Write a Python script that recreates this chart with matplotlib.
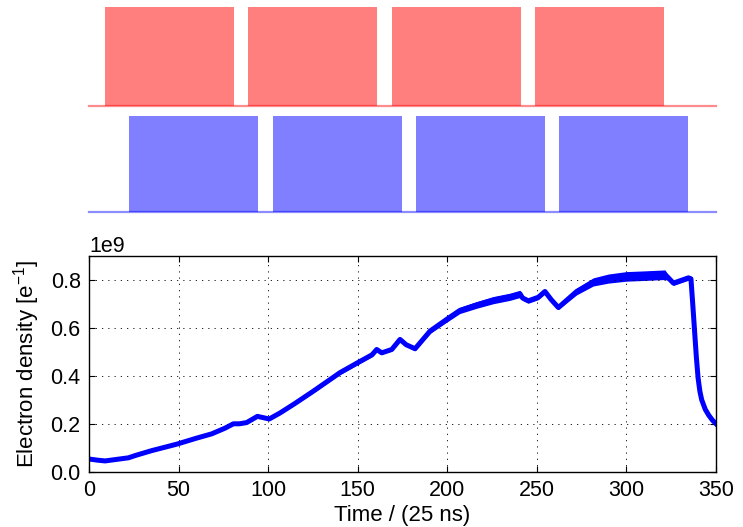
import numpy as np
import matplotlib
matplotlib.use("Agg")
import matplotlib.pyplot as plt

# bunch trains (start slot, in units of 25 ns), each train is 72 bunches long
red_train_starts = [9, 89, 169, 249]
blue_train_starts = [22.5, 102.5, 182.5, 262.5]
train_length = 72
t_end = 350

# electron density along the run (units of 1e9 e-/m)
time = [0, 5, 9, 15, 22, 26, 35, 49, 60, 68.5, 76, 80.6, 84, 88, 94,
        97, 100.6, 106.6, 115, 125, 136, 140, 150, 158, 160.6, 163.4, 169,
        173.6, 177, 182, 190.4, 199.7, 207, 216.4, 225.7, 235, 240.6,
        242, 245.2, 250.8, 254.5, 258, 262, 272.2, 281.5, 290, 300, 310,
        321.5, 323, 326.2, 330, 334.6, 336, 337, 338, 339, 340, 341, 342,
        344, 346, 348, 350]
density = [0.053, 0.048, 0.045, 0.051, 0.058, 0.068, 0.088, 0.115, 0.14,
           0.158, 0.182, 0.2, 0.2, 0.205, 0.231, 0.226, 0.22, 0.245, 0.285,
           0.335, 0.392, 0.413, 0.455, 0.488, 0.51, 0.496, 0.51, 0.552,
           0.53, 0.513, 0.587, 0.636, 0.673, 0.696, 0.716, 0.73, 0.742,
           0.725, 0.713, 0.728, 0.752, 0.718, 0.685, 0.752, 0.792, 0.806,
           0.815, 0.818, 0.822, 0.812, 0.787, 0.797, 0.809, 0.805, 0.70,
           0.59, 0.48, 0.39, 0.335, 0.30, 0.26, 0.235, 0.215, 0.2]
# half width of the fast in-train oscillation band
spread = [0.001, 0.001, 0.001, 0.001, 0.001, 0.001, 0.002, 0.002, 0.002,
          0.002, 0.002, 0.002, 0.002, 0.002, 0.002, 0.002, 0.002, 0.003,
          0.005, 0.006, 0.007, 0.008, 0.008, 0.008, 0.006, 0.006, 0.006,
          0.006, 0.006, 0.006, 0.010, 0.012, 0.013, 0.014, 0.015, 0.015,
          0.015, 0.010, 0.010, 0.010, 0.010, 0.008, 0.008, 0.014, 0.017,
          0.019, 0.020, 0.020, 0.020, 0.013, 0.010, 0.010, 0.010, 0.0,
          0.0, 0.0, 0.0, 0.0, 0.0, 0.0, 0.0, 0.0, 0.0, 0.0]

plt.rcParams["font.family"] = ["Liberation Sans", "DejaVu Sans"]
plt.rcParams["mathtext.fontset"] = "custom"
plt.rcParams["mathtext.rm"] = "Liberation Sans"
plt.rcParams["mathtext.it"] = "Liberation Sans:italic"


def train_outline(starts, length):
    xs, ys = [0], [0]
    for s in starts:
        xs += [s, s, s + length, s + length]
        ys += [0, 1, 1, 0]
    xs.append(t_end)
    ys.append(0)
    return xs, ys


fig = plt.figure(figsize=(7.43, 5.27), dpi=100)

ax_red = fig.add_axes([0.1198, 0.7998, 0.8439, 0.186])
ax_blue = fig.add_axes([0.1198, 0.5972, 0.8439, 0.1833])
for ax, starts, col in [(ax_red, red_train_starts, "red"),
                        (ax_blue, blue_train_starts, "blue")]:
    xs, ys = train_outline(starts, train_length)
    ax.fill_between(xs, ys, color=col, alpha=0.5, lw=0)
    ax.axhline(0, color=col, alpha=0.45, lw=1.6, clip_on=False)
    ax.set_xlim(0, t_end)
    ax.set_ylim(0, 1)
    ax.axis("off")

ax = fig.add_axes([0.1198, 0.1049, 0.8439, 0.4093])
t = np.array(time)
d = np.array(density)
s = np.array(spread)
ax.fill_between(t, (d - s) * 1e9, (d + s) * 1e9, color="blue", lw=0)
ax.plot(t, d * 1e9, color="blue", lw=3.6, solid_joinstyle="round")

ax.set_xlim(0, 350)
ax.set_ylim(0, 0.9e9)
ax.set_xticks([0, 50, 100, 150, 200, 250, 300, 350])
ax.set_yticks([0, 0.2e9, 0.4e9, 0.6e9, 0.8e9])
ax.ticklabel_format(axis="y", style="sci", scilimits=(9, 9))
ax.grid(True, color="black", linestyle=(0, (1.5, 6)), lw=0.6)
ax.tick_params(direction="in", top=True, right=True, length=4,
               labelsize=15.5, pad=6)
ax.yaxis.get_offset_text().set_fontsize(15.5)
for sp in ax.spines.values():
    sp.set_linewidth(1)
ax.set_xlabel("Time / (25 ns)", fontsize=16, labelpad=3)
ax.set_ylabel(r"Electron density [e$^{-1}$]", fontsize=16, labelpad=6)

fig.savefig("out.png", dpi=100, facecolor="white")
